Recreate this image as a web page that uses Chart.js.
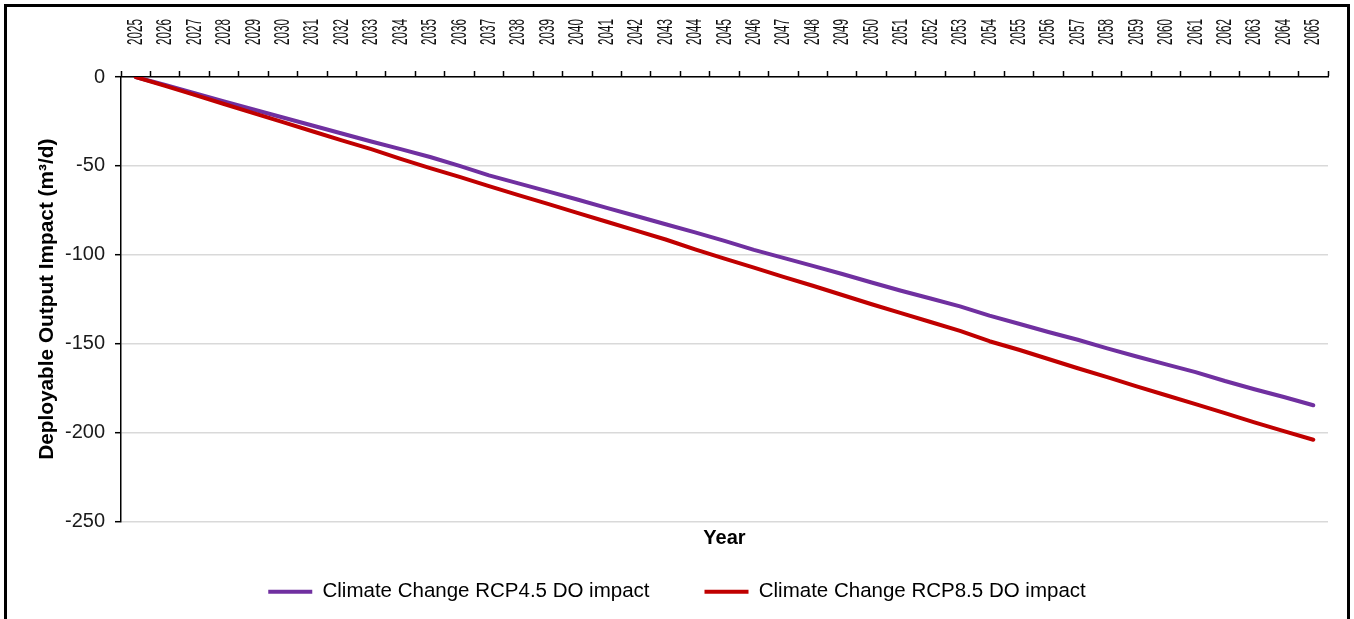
<!DOCTYPE html>
<html lang="en">
<head>
    <meta charset="UTF-8">
    <title>Deployable Output Impact</title>
    <script src="https://cdn.jsdelivr.net/npm/chart.js"></script>
    <style>
        body { margin: 0; background: #fff; }
        #wrap { position: relative; width: 1354px; height: 619px; overflow: hidden; }
        #doChart { position: absolute; left: 0; top: 0; }
        #frame {
            position: absolute; left: 4px; top: 4px;
            width: 1340px; height: 700px;
            border: 3px solid #000; pointer-events: none;
        }
    </style>
</head>
<body>
    <div id="wrap">
        <canvas id="doChart" width="1354" height="619"></canvas>
        <div id="frame"></div>
    </div>

    <script>
        const years = [
            '2025', '2026', '2027', '2028', '2029', '2030', '2031', '2032', '2033', '2034',
            '2035', '2036', '2037', '2038', '2039', '2040', '2041', '2042', '2043', '2044',
            '2045', '2046', '2047', '2048', '2049', '2050', '2051', '2052', '2053', '2054',
            '2055', '2056', '2057', '2058', '2059', '2060', '2061', '2062', '2063', '2064',
            '2065'
        ];

        // m3/d, RCP4.5 scenario
        const rcp45 = [
            0, -4.5, -9.1, -13.7, -18.3, -22.8, -27.3, -31.8, -36.3, -40.6,
            -45.0, -50.0, -55.3, -59.8, -64.3, -68.9, -73.6, -78.2, -82.8, -87.4,
            -92.2, -97.2, -101.7, -106.2, -110.8, -115.6, -120.2, -124.6, -129.0, -134.2,
            -138.8, -143.4, -147.8, -152.6, -157.2, -161.6, -166.0, -171.0, -175.6, -180.0,
            -184.6
        ];

        // m3/d, RCP8.5 scenario
        const rcp85 = [
            0, -5.0, -10.1, -15.2, -20.3, -25.4, -30.5, -35.6, -40.6, -46.0,
            -51.2, -56.2, -61.4, -66.4, -71.4, -76.4, -81.4, -86.4, -91.4, -97.0,
            -102.2, -107.2, -112.4, -117.4, -122.6, -127.8, -132.8, -137.8, -142.8, -148.6,
            -153.4, -158.6, -163.8, -168.8, -174.0, -179.0, -184.0, -189.0, -194.2, -199.2,
            -204.0
        ];

        const seriesNames = ['Climate Change RCP4.5 DO impact', 'Climate Change RCP8.5 DO impact'];

        const LABEL_SQUEEZE = 0.53; // year labels are set in a condensed style

        // category axis that draws its rotated labels condensed along the text direction,
        // centred on the category instead of Chart.js' offset for top-rotated labels
        class CondensedCategoryScale extends Chart.CategoryScale {
            drawLabels(chartArea) {
                const ctx = this.ctx;
                const font = this.options.ticks.font;
                const lineHeight = font.size * font.lineHeight;
                const base = this.bottom - this.options.grid.tickLength - this.options.ticks.padding;
                ctx.save();
                ctx.translate(lineHeight, base);
                ctx.scale(1, LABEL_SQUEEZE);
                ctx.translate(0, -base);
                super.drawLabels(chartArea);
                ctx.restore();
            }
        }
        CondensedCategoryScale.id = 'condensedCategory';
        CondensedCategoryScale.defaults = Chart.CategoryScale.defaults;
        Chart.register(CondensedCategoryScale);

        Chart.defaults.font.family = "'Liberation Sans', Arial, sans-serif";
        Chart.defaults.color = '#1a1a1a';

        const ctx = document.getElementById('doChart').getContext('2d');
        new Chart(ctx, {
            type: 'line',
            data: {
                labels: years,
                datasets: [{
                    label: seriesNames[0],
                    data: rcp45,
                    borderColor: '#7030A0',
                    backgroundColor: '#7030A0',
                    borderWidth: 4,
                    borderCapStyle: 'round',
                    borderJoinStyle: 'round',
                    pointRadius: 0,
                    tension: 0,
                    order: 1
                }, {
                    label: seriesNames[1],
                    data: rcp85,
                    borderColor: '#C00000',
                    backgroundColor: '#C00000',
                    borderWidth: 4,
                    borderCapStyle: 'round',
                    borderJoinStyle: 'round',
                    pointRadius: 0,
                    tension: 0,
                    order: 0
                }]
            },
            options: {
                responsive: false,
                animation: false,
                devicePixelRatio: 1,
                layout: {
                    padding: { top: -10, left: 26, right: 26, bottom: 7 }
                },
                scales: {
                    x: {
                        type: 'condensedCategory',
                        position: 'top',
                        offset: true,
                        grid: {
                            display: true,
                            offset: true,
                            drawOnChartArea: false,
                            drawTicks: true,
                            tickLength: 6,
                            tickColor: '#000',
                            tickWidth: 1.5
                        },
                        border: { color: '#000', width: 1.5 },
                        ticks: {
                            autoSkip: false,
                            minRotation: 90,
                            maxRotation: 90,
                            padding: 26,
                            color: '#111',
                            font: { size: 22 }
                        },
                        afterFit(scale) { scale.height = 87; }
                    },
                    y: {
                        min: -250,
                        max: 0,
                        grid: {
                            color: '#d9d9d9',
                            lineWidth: 1.4,
                            tickLength: 6,
                            tickColor: '#000',
                            tickWidth: 1.5
                        },
                        border: { color: '#000', width: 1.5 },
                        ticks: {
                            stepSize: 50,
                            padding: 10,
                            color: '#1a1a1a',
                            font: { size: 20 }
                        },
                        title: {
                            display: true,
                            text: 'Deployable Output Impact (m³/d)',
                            color: '#000',
                            font: { size: 20.8, weight: 'bold' },
                            padding: { top: 9, bottom: 0 }
                        },
                        afterFit(scale) { scale.width = 95; }
                    }
                },
                plugins: {
                    title: {
                        display: true,
                        text: 'Year',
                        position: 'bottom',
                        fullSize: false,
                        weight: 500,
                        color: '#000',
                        font: { size: 20, weight: 'bold' },
                        // the title overlaps the legend's wide top padding, so its box is kept short
                        padding: { top: 5, bottom: -24 }
                    },
                    legend: {
                        position: 'bottom',
                        labels: {
                            usePointStyle: true,
                            pointStyle: 'line',
                            pointStyleWidth: 44,
                            padding: 55,
                            color: '#000',
                            font: { size: 20.5 },
                            sort: (a, b) => a.datasetIndex - b.datasetIndex
                        }
                    },
                    tooltip: { enabled: false }
                }
            }
        });
    </script>
</body>
</html>
